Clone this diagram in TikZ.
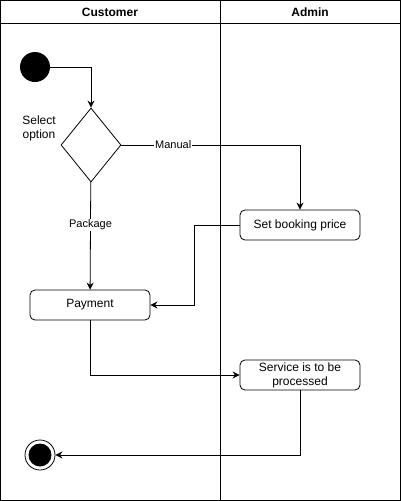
\documentclass[tikz,border=0pt]{standalone}
\usepackage{fontspec}
\setmainfont{Liberation Sans}
\usetikzlibrary{arrows.meta,shapes.geometric}
\tikzset{
  lanehead/.style={font=\fontsize{12}{14}\selectfont\bfseries},
  actbox/.style={draw,rounded corners=5pt,minimum width=120pt,minimum height=30pt,
    align=center,inner sep=2pt,font=\fontsize{12}{14}\selectfont},
  flow/.style={-{Stealth[length=7pt,width=7pt]},line width=0.8pt},
  lbl/.style={fill=white,inner sep=1pt,font=\fontsize{11}{13}\selectfont}
}

\begin{document}
\begin{tikzpicture}[x=1pt,y=-1pt,line width=0.8pt]
  \useasboundingbox (0,0) rectangle (401,501);
  % swimlanes
  \draw (0.5,0.5) rectangle (400.5,500.5);
  \draw (0.5,23.5) -- (400.5,23.5);
  \draw (220.5,0.5) -- (220.5,500.5);
  \node[lanehead] (custlane) at (110,12) {Customer};
  \node[lanehead] (adminlane) at (310,12) {Admin};

  % states
  \node[circle,fill,minimum size=30pt,inner sep=0pt] (start) at (35,67) {};
  \node[diamond,draw,minimum width=60pt,minimum height=74pt,inner sep=0pt] (choice) at (91,145) {};
  \node[align=center,font=\fontsize{12}{14}\selectfont] (choicelbl) at (39,128) {Select\\option};
  \node[actbox] (booking) at (300,225) {Set booking price};
  \node[actbox] (payment) at (90,305) {Payment};
  \node[actbox] (service) at (300,375) {Service is to be\\processed};
  \node[circle,draw,minimum size=30pt,inner sep=0pt] (finish) at (40,455) {};
  \node[circle,fill,minimum size=23pt,inner sep=0pt] (finishdot) at (finish) {};

  % flows
  \draw[flow] (start) -| (choice);
  \draw[flow] (choice) -| node[lbl,pos=0.145] {Manual} (booking);
  \draw[flow] (choice) -- node[lbl,pos=0.4] {Package} (payment);
  \draw[flow] (booking.west) -- ++(-45,0) |- (payment.east);
  \draw[flow] (payment) |- (service);
  \draw[flow] (service) |- (finish);
\end{tikzpicture}
\end{document}
